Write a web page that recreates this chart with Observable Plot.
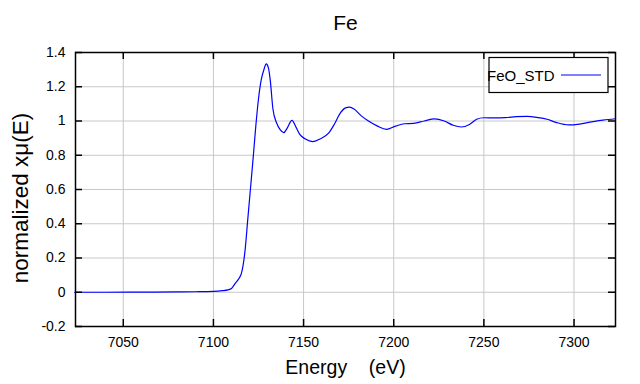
<!DOCTYPE html>
<html>
<head>
<meta charset="utf-8">
<script src="https://cdn.jsdelivr.net/npm/d3@7"></script>
<script src="https://cdn.jsdelivr.net/npm/@observablehq/plot@0.6"></script>
<style>
  html, body { margin: 0; padding: 0; background: white; }
  svg text { white-space: pre; }
</style>
</head>
<body>
<div id="chart"></div>
<script>
const title = "Fe";
const xLabel = "Energy    (eV)";
const yLabel = "normalized xμ(E)";
const seriesName = "FeO_STD";
const xTicks = [7050, 7100, 7150, 7200, 7250, 7300];
const yTicks = [-0.2, 0, 0.2, 0.4, 0.6, 0.8, 1, 1.2, 1.4];

const energy = [7023, 7040, 7060, 7080, 7090, 7100, 7105, 7108, 7110, 7112, 7114, 7115.5, 7116.5, 7117.5, 7119,
  7120.5, 7122, 7123.5, 7125, 7126.5, 7128, 7129.3, 7130.5, 7131.5, 7133, 7135, 7137, 7139, 7141, 7143.5,
  7146, 7148, 7151, 7155, 7159, 7164, 7167, 7170, 7173, 7175.5, 7178, 7182, 7186, 7191, 7196, 7201, 7206,
  7211, 7217, 7222.5, 7228, 7233, 7237.5, 7242, 7246, 7250, 7256, 7262, 7268, 7274, 7280, 7285, 7290, 7297,
  7303, 7309, 7316, 7323];
const mu = [0, 0, 0.001, 0.002, 0.003, 0.005, 0.009, 0.014, 0.022, 0.05, 0.078, 0.11, 0.16, 0.24, 0.42,
  0.6, 0.78, 0.97, 1.13, 1.24, 1.3, 1.333, 1.31, 1.24, 1.07, 0.99, 0.95, 0.932, 0.96, 1.004,
  0.96, 0.92, 0.895, 0.88, 0.895, 0.93, 0.98, 1.04, 1.075, 1.081, 1.07, 1.03, 1.0, 0.97, 0.951, 0.97, 0.984,
  0.986, 1.0, 1.012, 1.0, 0.975, 0.965, 0.98, 1.01, 1.019, 1.018, 1.02, 1.025, 1.027, 1.02, 1.01, 0.992, 0.977,
  0.982, 0.993, 1.005, 1.013];

const data = energy.map((e, i) => ({energy: e, mu: mu[i]}));
const fmt = d => String(Math.round(d * 10) / 10);
const grid = {stroke: "#c8c8c8", strokeOpacity: 1, strokeWidth: 1};
const font = "'Liberation Sans', Arial, sans-serif";

const chart = Plot.plot({
  width: 640,
  height: 384,
  marginLeft: 75,
  marginRight: 25,
  marginTop: 52,
  marginBottom: 58,
  style: {fontFamily: font, fontSize: "14px", background: "white", color: "black"},
  x: {domain: [7023.5, 7323], label: null},
  y: {domain: [-0.2, 1.4], label: null},
  marks: [
    Plot.gridX(xTicks, grid),
    Plot.gridY(yTicks, grid),
    Plot.line(data, {x: "energy", y: "mu", stroke: "blue", strokeWidth: 1.2, curve: "monotone-x"}),
    Plot.tickX(xTicks, {x: d => d, insetTop: 267, stroke: "black", strokeWidth: 1.5}),
    Plot.tickX(xTicks, {x: d => d, insetBottom: 267, stroke: "black", strokeWidth: 1.5}),
    Plot.tickY(yTicks, {y: d => d, insetRight: 533, stroke: "black", strokeWidth: 1.5}),
    Plot.tickY(yTicks, {y: d => d, insetLeft: 533, stroke: "black", strokeWidth: 1.5}),
    Plot.frame({stroke: "black", strokeWidth: 1.5}),
    Plot.axisX(xTicks, {tickSize: 0, tickPadding: 11, fontSize: 14, tickFormat: d => String(d), label: null}),
    Plot.axisY(yTicks, {tickSize: 0, tickPadding: 10, fontSize: 14, tickFormat: fmt, label: null}),
    Plot.text([title], {frameAnchor: "top", textAnchor: "middle", lineAnchor: "middle", dy: -29.5, fontSize: 21, text: d => d}),
    Plot.text([xLabel], {frameAnchor: "bottom", textAnchor: "middle", lineAnchor: "middle", dy: 41, fontSize: 19.5, text: d => d}),
    Plot.text([yLabel], {frameAnchor: "left", textAnchor: "middle", lineAnchor: "middle", rotate: -90, dx: -54.5, dy: 8.5, fontSize: 22.5, text: d => d})
  ]
});

document.getElementById("chart").appendChild(chart);

// legend
const svg = d3.select(chart);
const lg = svg.append("g");
lg.append("rect").attr("x", 489).attr("y", 57.5).attr("width", 119).attr("height", 35)
  .attr("fill", "white").attr("stroke", "black").attr("stroke-width", 1.2);
lg.append("text").attr("x", 487).attr("y", 81).attr("font-size", 15).attr("text-anchor", "start")
  .attr("font-family", font).attr("fill", "black").text(seriesName);
lg.append("line").attr("x1", 561).attr("x2", 601).attr("y1", 75).attr("y2", 75)
  .attr("stroke", "blue").attr("stroke-width", 1.2);
</script>
</body>
</html>
